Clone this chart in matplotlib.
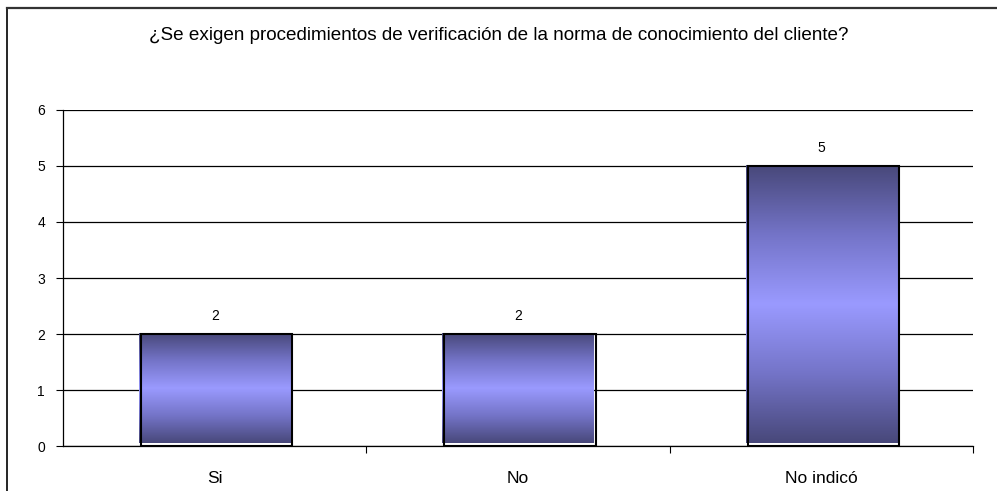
import matplotlib
matplotlib.use('Agg')
import matplotlib.pyplot as plt
import numpy as np
from matplotlib.colors import LinearSegmentedColormap
from matplotlib.patches import Rectangle
from matplotlib.lines import Line2D

plt.rcParams['font.family'] = ['Liberation Sans', 'DejaVu Sans']

title = "¿Se exigen procedimientos de verificación de la norma de conocimiento del cliente?"
categories = ["Si", "No", "No indicó"]
values = [2, 2, 5]
y_ticks = [0, 1, 2, 3, 4, 5, 6]

fig = plt.figure(figsize=(9.97, 4.91), dpi=100)
ax = fig.add_axes([0.0632, 0.0916, 0.913, 0.6844])

# outer chart frame (left and top edges only visible)
fig.lines.append(Line2D([0.0075, 0.0075], [0.0, 1 - 7.5 / 491], transform=fig.transFigure,
                        color="black", linewidth=1.2))
fig.lines.append(Line2D([0.0075, 1.0], [1 - 7.5 / 491, 1 - 7.5 / 491], transform=fig.transFigure,
                        color="#333333", linewidth=1.6))

grad = LinearSegmentedColormap.from_list("g", ["#48487a", "#7474c8", "#9a9aff", "#7474c8", "#48487a"])
g = np.linspace(0, 1, 256).reshape(-1, 1)

width = 0.5
for i, v in enumerate(values):
    x0 = i - width / 2
    ax.imshow(g, cmap=grad, aspect="auto", extent=(x0, x0 + width, 0.05, v),
              origin="lower", zorder=2, interpolation="bilinear")
    ax.add_patch(Rectangle((x0 + 0.006, 0), width, v, fill=False,
                           edgecolor="black", linewidth=1.5, zorder=3))
    ax.text(i, v + 0.2, str(v), ha="center", va="bottom", fontsize=10, zorder=4)

ax.set_xlim(-0.5, len(categories) - 0.5)
ax.set_ylim(0, 6)
ax.set_yticks(y_ticks)
ax.set_yticklabels([str(t) for t in y_ticks], fontsize=10)
ax.yaxis.grid(True, color="black", linewidth=0.9)
ax.set_axisbelow(True)

ax.set_xticks([0.5, 1.5, 2.5])
ax.set_xticklabels([])
ax.set_xticks(range(len(categories)), minor=True)
ax.set_xticklabels(categories, minor=True, fontsize=12.5)
ax.tick_params(axis="x", which="minor", length=0, pad=18)
ax.tick_params(axis="x", which="major", length=5, direction="out")
ax.tick_params(axis="y", length=5, direction="out", pad=8)

for s in ["top", "right"]:
    ax.spines[s].set_visible(False)
ax.spines["left"].set_linewidth(0.9)
ax.spines["bottom"].set_linewidth(0.9)

fig.text(0.5, 0.927, title, ha="center", va="center", fontsize=13.6)

plt.savefig("out.png", dpi=100)
